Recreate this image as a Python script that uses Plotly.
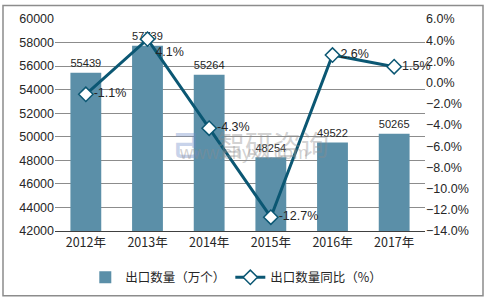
import plotly.graph_objects as go

years = ["2012年", "2013年", "2014年", "2015年", "2016年", "2017年"]
export_qty = [55439, 57739, 55264, 48254, 49522, 50265]
yoy_pct = [-1.1, 4.1, -4.3, -12.7, 2.6, 1.5]

bar_color = "#5B8FA8"
line_color = "#0B5773"
font_main = "Liberation Sans, Arial, Noto Sans CJK SC, sans-serif"
font_cjk = "Noto Sans CJK SC, Liberation Sans, sans-serif"

fig = go.Figure()
fig.add_trace(go.Bar(
    x=years, y=export_qty, name="出口数量（万个）",
    marker=dict(color=bar_color, line=dict(width=0)),
    text=[str(v) for v in export_qty], textposition="outside",
    textfont=dict(size=12.5, color="#262626", family=font_main),
    cliponaxis=False,
))
fig.add_trace(go.Scatter(
    x=years, y=yoy_pct, name="出口数量同比（%）", yaxis="y2",
    mode="lines+markers+text",
    line=dict(color=line_color, width=3),
    marker=dict(symbol="diamond", size=11, color="white",
                line=dict(color=line_color, width=1.5)),
    text=[f"{v:.1f}%" for v in yoy_pct],
    textposition=["middle right", "bottom right", "middle right",
                  "middle right", "middle right", "middle right"],
    textfont=dict(size=12.5, color="#262626", family=font_main),
    cliponaxis=False,
))

# watermark
fig.add_annotation(xref="paper", yref="paper", x=0.59, y=0.41,
                   text="智研咨询", showarrow=False,
                   font=dict(size=28, color="rgba(140,140,140,0.40)", family=font_cjk))
fig.add_annotation(xref="paper", yref="paper", x=0.355, y=0.41,
                   text="<b>己</b>", showarrow=False,
                   font=dict(size=28, color="rgba(110,140,200,0.40)", family=font_cjk))
fig.add_annotation(xref="paper", yref="paper", x=0.51, y=0.31,
                   text="www.chyxx.com", showarrow=False,
                   font=dict(size=18, color="rgba(140,140,140,0.40)", family=font_main))

fig.update_layout(
    width=487, height=305,
    margin=dict(l=55, r=62, t=16, b=70),
    paper_bgcolor="white", plot_bgcolor="white",
    bargap=0.5,
    showlegend=True,
    legend=dict(orientation="h", x=0.49, xanchor="center", y=-0.22, yanchor="middle",
                font=dict(size=12.5, color="#262626", family=font_cjk),
                itemwidth=30, tracegroupgap=0),
    xaxis=dict(showline=True, linecolor="#404040", linewidth=1, ticks="",
               tickfont=dict(size=12.5, color="#262626", family=font_cjk)),
    yaxis=dict(range=[42000, 60000], dtick=2000, showgrid=True, tickformat="d",
               gridcolor="#8C8C8C", gridwidth=1, zeroline=False,
               tickfont=dict(size=12.5, color="#262626", family=font_main)),
    yaxis2=dict(range=[-14, 6], dtick=2, overlaying="y", side="right",
                showgrid=False, zeroline=False, tickformat=".1f", ticksuffix="%",
                tickfont=dict(size=12.5, color="#262626", family=font_main)),
    shapes=[dict(type="rect", xref="paper", yref="paper",
                 x0=(3 - 55) / 370, x1=(483 - 55) / 370,
                 y0=(235 - 302) / 219, y1=(235 - 2) / 219,
                 line=dict(color="#8C8C8C", width=1.5), layer="below")],
)

fig.write_html("out.html")
